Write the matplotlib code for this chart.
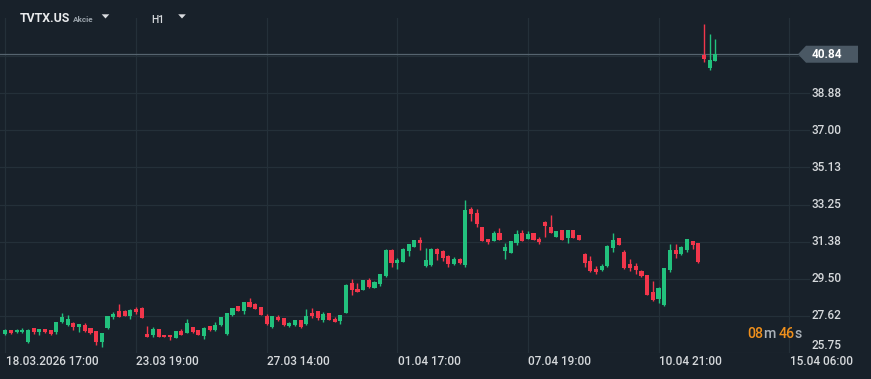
import matplotlib
matplotlib.use("Agg")
import matplotlib.pyplot as plt
from matplotlib.patches import Polygon
from matplotlib.transforms import blended_transform_factory
import numpy as np

# ---------------- data ----------------
opens = [26.70, 26.90, 26.79, 26.79, 26.29, 27.00, 26.82, 26.95, 26.92, 26.79,
         27.30, 27.14, 27.24, 27.04, 27.15, 27.02, 26.87, 26.29, 26.99, 27.57,
         27.87, 27.87, 27.64, 27.97, 28.04, 26.72, 26.64, 26.95, 26.67, 26.67,
         26.50, 26.84, 26.75, 27.07, 26.89, 26.62, 27.12, 26.89, 27.17, 26.69,
         27.69, 28.12, 27.87, 28.32, 28.22, 28.07, 27.62, 27.04, 27.57, 27.52,
         27.09, 27.14, 27.42, 27.19, 27.77, 27.87, 27.42, 27.77, 27.47, 27.37,
         27.77, 29.27, 28.97, 28.92, 29.42, 29.02, 29.22, 29.62, 30.97, 30.32,
         30.37, 30.92, 31.12, 31.47, 30.12, 30.17, 31.02, 30.92, 30.67, 30.27,
         30.52, 30.17, 33.02, 32.82, 32.12, 31.52, 31.42, 31.82, 30.92, 30.82,
         31.32, 31.82, 31.52, 31.82, 31.52, 32.37, 32.12, 31.62, 31.97, 31.57,
         31.97, 31.72, 30.77, 30.42, 29.97, 29.92, 30.12, 31.07, 31.57, 30.87,
         30.22, 30.12, 29.87, 29.67, 28.82, 28.47, 28.17, 29.92, 30.97, 30.77,
         30.97, 31.42, 31.32, 40.80, 40.12, 40.50]
highs = [26.97, 26.92, 26.95, 27.00, 26.95, 27.01, 26.97, 26.96, 26.93, 27.34,
         27.79, 27.67, 27.30, 27.23, 27.27, 27.03, 26.88, 26.78, 27.63, 27.82,
         28.22, 27.92, 27.99, 28.05, 28.06, 27.12, 27.04, 26.96, 26.68, 26.68,
         26.85, 26.97, 27.47, 27.08, 26.90, 27.04, 27.13, 27.32, 27.58, 27.78,
         28.02, 28.13, 28.34, 28.52, 28.27, 28.08, 27.72, 27.63, 27.67, 27.53,
         27.32, 27.43, 27.43, 27.97, 28.02, 27.88, 27.82, 27.78, 27.57, 27.68,
         29.22, 29.47, 29.27, 29.43, 29.52, 29.37, 29.73, 30.98, 30.98, 30.57,
         31.03, 31.28, 31.48, 31.62, 31.07, 31.03, 31.03, 30.93, 30.68, 30.62,
         30.53, 33.47, 33.12, 33.02, 32.13, 31.53, 31.92, 32.07, 31.32, 31.43,
         31.97, 31.97, 31.92, 31.83, 31.62, 32.42, 32.72, 31.93, 31.98, 31.98,
         31.98, 31.73, 30.78, 30.67, 30.12, 30.22, 31.18, 31.82, 31.58, 30.97,
         30.52, 30.32, 29.92, 29.68, 29.37, 29.07, 30.03, 31.27, 31.27, 31.13,
         31.53, 31.43, 31.33, 42.35, 41.85, 41.60]
lows = [26.65, 26.72, 26.77, 26.75, 26.27, 26.72, 26.64, 26.78, 26.68, 26.72,
        27.25, 27.10, 26.92, 26.82, 26.79, 26.69, 26.14, 26.04, 26.98, 27.49,
        27.58, 27.63, 27.49, 27.72, 27.52, 26.54, 26.55, 26.54, 26.54, 26.42,
        26.49, 26.65, 26.74, 26.77, 26.66, 26.47, 26.88, 26.88, 27.12, 26.68,
        27.62, 27.86, 27.72, 28.06, 27.96, 27.66, 27.18, 27.03, 27.37, 27.13,
        27.08, 27.13, 27.03, 27.18, 27.52, 27.42, 27.34, 27.41, 27.31, 27.22,
        27.76, 28.67, 28.83, 28.91, 29.02, 29.01, 29.12, 29.61, 30.07, 29.97,
        30.36, 30.67, 31.11, 30.97, 30.11, 30.16, 30.47, 30.42, 30.07, 30.17,
        30.22, 30.07, 32.42, 32.12, 31.41, 31.27, 31.41, 31.46, 30.52, 30.81,
        31.22, 31.41, 31.51, 31.46, 31.27, 31.62, 31.81, 31.61, 31.46, 31.32,
        31.56, 31.46, 30.07, 29.86, 29.72, 29.91, 30.11, 30.87, 31.21, 30.01,
        29.87, 29.72, 29.61, 28.66, 28.37, 28.27, 28.12, 29.82, 30.57, 30.72,
        30.87, 31.02, 30.32, 40.47, 40.02, 40.49]
closes = [26.92, 26.74, 26.90, 26.90, 26.92, 26.82, 26.95, 26.79, 26.72, 27.32,
          27.57, 27.47, 27.04, 27.22, 26.85, 26.74, 26.29, 26.77, 27.62, 27.74,
          27.59, 27.64, 27.92, 27.82, 27.54, 26.55, 26.97, 26.55, 26.55, 26.55,
          26.84, 26.67, 27.24, 26.79, 26.67, 27.00, 26.89, 27.17, 27.57, 27.77,
          28.02, 27.87, 28.34, 28.07, 27.97, 27.67, 27.19, 27.62, 27.42, 27.14,
          27.24, 27.42, 27.04, 27.62, 27.62, 27.52, 27.72, 27.42, 27.32, 27.67,
          29.20, 28.92, 28.84, 29.42, 29.07, 29.32, 29.72, 30.97, 30.32, 30.47,
          31.02, 31.27, 31.47, 31.32, 30.47, 31.02, 30.77, 30.57, 30.27, 30.52,
          30.32, 32.97, 32.77, 32.27, 31.42, 31.37, 31.82, 31.47, 31.12, 31.42,
          31.77, 31.42, 31.77, 31.47, 31.37, 32.17, 31.82, 31.92, 31.47, 31.97,
          31.57, 31.47, 30.32, 29.87, 29.82, 30.12, 31.17, 31.47, 31.22, 30.02,
          30.02, 29.92, 29.62, 28.67, 28.42, 29.02, 30.02, 30.97, 30.77, 31.12,
          31.52, 31.22, 30.37, 40.62, 40.55, 40.84]

price_ticks = [25.75, 27.625, 29.50, 31.375, 33.25, 35.125, 37.00, 38.875]
price_labels = ["25.75", "27.62", "29.50", "31.38", "33.25", "35.13", "37.00", "38.88"]
time_tick_idx = [0, 23, 46, 69, 92, 115, 138]
time_labels = ["18.03.2026 17:00", "23.03 19:00", "27.03 14:00", "01.04 17:00",
               "07.04 19:00", "10.04 21:00", "15.04 06:00"]
last_price = 40.84
symbol = "TVTX.US"
asset_type = "Akcie"
timeframe = "H1"
timer_parts = ["08", "m", "46", "s"]

# ---------------- style ----------------
BG = "#18212a"
GRID = "#243039"
GREEN = "#22c17d"
RED = "#f2364b"
TXT = "#d6d9dc"
FONT = "Roboto"
FS = 8.5

W, H = 871, 379
fig = plt.figure(figsize=(W / 100, H / 100), dpi=100, facecolor=BG)

ax_left, ax_right, ax_top, ax_bot = 0, 810, 18, 353
ax = fig.add_axes([ax_left / W, (H - ax_bot) / H, (ax_right - ax_left) / W, (ax_bot - ax_top) / H])
ax.set_facecolor(BG)
for s in ax.spines.values():
    s.set_visible(False)
ax.set_xticks([])
ax.set_yticks([])

n = len(opens)
idx = np.arange(n)
ax.set_xlim(-0.93, 141.67)
ax.set_ylim(25.75, 42.67)

# grid
for p in price_ticks[1:] + [40.75]:
    ax.axhline(p, color=GRID, lw=0.9, zorder=0)
ax.plot([-0.93, 138], [25.76, 25.76], color=GRID, lw=0.9, zorder=0)
for t in time_tick_idx:
    ax.axvline(t, color=GRID, lw=0.9, zorder=0)

# current price line
ax.axhline(last_price, color="#56646f", lw=0.9, zorder=1)

# candles
o = np.array(opens); c = np.array(closes); hi = np.array(highs); lo = np.array(lows)
up = c >= o
cols = np.where(up, GREEN, RED)
ax.vlines(idx, lo, hi, colors=cols, lw=1.0, zorder=2)
body_bot = np.minimum(o, c)
body_h = np.maximum(np.abs(c - o), 0.05)
ax.bar(idx, body_h, bottom=body_bot, width=0.72, color=cols, edgecolor=cols, lw=0, zorder=3)

# price labels (right)
tr_y = blended_transform_factory(ax.transAxes, ax.transData)
for p, lab in zip(price_ticks, price_labels):
    if p == price_ticks[0]:
        ax.text(1.0013, p + 0.04, lab, transform=tr_y, ha="left", va="bottom",
                color=TXT, fontsize=FS, fontfamily=FONT, fontweight="medium", clip_on=False)
    else:
        ax.text(1.0013, p, lab, transform=tr_y, ha="left", va="center",
                color=TXT, fontsize=FS, fontfamily=FONT, fontweight="medium", clip_on=False)

# last price tag
hh = 8.5 / 19.8
tip = 798 / 810; rl = 806 / 810; rr = 858 / 810
poly = Polygon([[tip, last_price], [rl, last_price + hh], [rr, last_price + hh],
                [rr, last_price - hh], [rl, last_price - hh]], closed=True,
               transform=tr_y, facecolor="#4a5864", edgecolor="none", clip_on=False, zorder=5)
ax.add_patch(poly)
ax.text(811.5 / 810, last_price, f"{last_price:.2f}", transform=tr_y, ha="left", va="center",
        color="white", fontsize=FS, fontfamily=FONT, fontweight="bold", clip_on=False, zorder=6)

# time labels
tr_x = blended_transform_factory(ax.transData, ax.transAxes)
for t, lab in zip(time_tick_idx, time_labels):
    ax.text(t + 0.1, -8.7 / 335, lab, transform=tr_x, ha="left", va="center",
            color=TXT, fontsize=FS, fontfamily=FONT, fontweight="medium", clip_on=False)

# header
def fy(py):
    return 1 - py / H

fig.text(20 / W, fy(18), symbol, color="#e8eaec", fontsize=8.8, fontfamily=FONT,
         fontweight="bold", ha="left", va="center")
fig.text(73 / W, fy(19), asset_type, color="#9aa3ab", fontsize=5.9, fontfamily=FONT,
         fontweight="bold", ha="left", va="center")
fig.text(151 / W, fy(20), timeframe, color="#d9dcdf", fontsize=7.4, fontfamily=FONT,
         fontweight="medium", ha="left", va="center")
for cx in (105.5, 182):
    tri = Polygon([[cx - 3.8, H - 14.3], [cx + 3.8, H - 14.3], [cx, H - 18.5]], closed=True,
                  transform=None, facecolor="#d9dcdf", edgecolor="none")
    fig.patches.append(tri)

# countdown timer pieces
timer_x = [747.5, 763.6, 779.0, 794.8]
timer_cols = ["#f0901c", "#a9b0b7", "#f0901c", "#a9b0b7"]
for piece, xp, col in zip(timer_parts, timer_x, timer_cols):
    fig.text(xp / W, fy(334), piece, color=col, fontsize=10.2, fontfamily=FONT,
             fontweight="medium", ha="left", va="center")

fig.savefig("out.png", dpi=100, facecolor=BG)
